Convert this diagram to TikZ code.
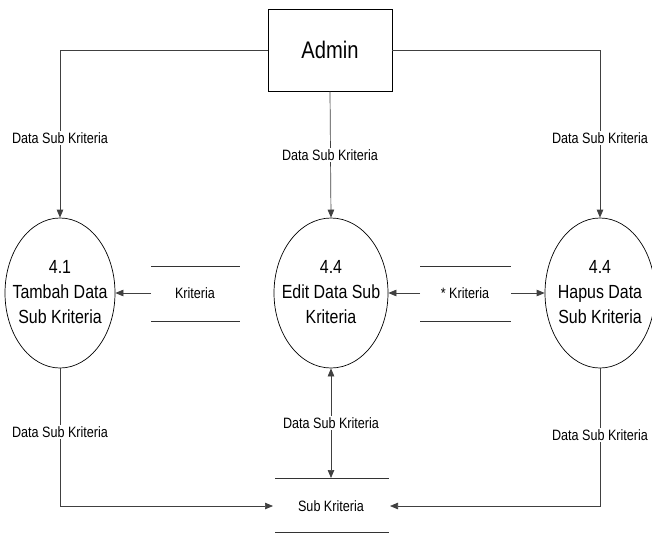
\documentclass[tikz,border=0pt]{standalone}
\usepackage{fontspec}
\setmainfont[FakeStretch=0.84]{Liberation Sans}
\usetikzlibrary{shapes.geometric,arrows.meta}
\newcommand{\ptext}[1]{\makebox[0pt][c]{\begin{tabular}{@{}c@{}}#1\end{tabular}}}
\tikzset{
  conn/.style={draw=black!75, line width=0.7pt, -{Triangle[length=8pt,width=6.5pt]}},
  both/.style={draw=black!75, line width=0.7pt, {Triangle[length=8pt,width=6.5pt]}-{Triangle[length=8pt,width=6.5pt]}},
  proc/.style={draw, ellipse, line width=0.7pt, minimum width=110pt, minimum height=150pt, inner sep=0pt, font=\fontsize{19}{25}\selectfont},
  entity/.style={draw, line width=0.7pt, minimum width=124pt, minimum height=82pt, inner sep=0pt, font=\fontsize{24}{28}\selectfont},
  lbl/.style={fill=white, inner sep=1.5pt, font=\fontsize{15}{17}\selectfont},
  storetxt/.style={inner sep=1pt, font=\fontsize{15}{17}\selectfont},
  storeline/.style={draw=black!80, line width=0.7pt}
}
\begin{document}
\begin{tikzpicture}[x=1pt,y=-1pt]
\useasboundingbox (0,0) rectangle (652,533);

% entity
\node[entity] (admin) at (330,50) {Admin};

% processes
\node[proc] (e1) at (60,293) {\ptext{4.1\\Tambah Data\\Sub Kriteria}};
\node[proc, minimum width=114pt] (e2) at (331,293) {\ptext{4.4\\Edit Data Sub\\Kriteria}};
\node[proc] (e3) at (600,293) {\ptext{4.4\\Hapus Data\\Sub Kriteria}};

% data stores
\node[storetxt] (k1) at (195,293) {Kriteria};
\draw[storeline] (151,266) -- (240,266);
\draw[storeline] (151,321) -- (240,321);
\coordinate (k1a) at (151,293);

\node[storetxt] (k2) at (465,293) {* Kriteria};
\draw[storeline] (420,266) -- (511,266);
\draw[storeline] (420,321) -- (511,321);
\coordinate (k2a) at (420,293);
\coordinate (k2b) at (511,293);

\node[storetxt] (sk) at (331,506) {Sub Kriteria};
\draw[storeline] (275,478) -- (389,478);
\draw[storeline] (275,532) -- (389,532);
\coordinate (skt) at (331,478);
\coordinate (skw) at (273,506);
\coordinate (ske) at (390,506);

% connectors
\draw[conn] (admin.west) -| (e1.north);
\draw[conn] (admin.south) -- (e2.north);
\draw[conn] (admin.east) -| (e3.north);

\draw[conn] (k1a) -- (e1.east);
\draw[conn] (k2a) -- (e2.east);
\draw[conn] (k2b) -- (e3.west);

\draw[both] (e2.south) -- (skt);
\draw[conn] (e1.south) |- (skw);
\draw[conn] (e3.south) |- (ske);

% labels
\node[lbl] (l1) at (60,138) {Data Sub Kriteria};
\node[lbl] (l2) at (330,155) {Data Sub Kriteria};
\node[lbl] (l3) at (600,138) {Data Sub Kriteria};
\node[lbl] (l4) at (60,432) {Data Sub Kriteria};
\node[lbl] (l5) at (331,423) {Data Sub Kriteria};
\node[lbl] (l6) at (600,435) {Data Sub Kriteria};
\end{tikzpicture}
\end{document}
